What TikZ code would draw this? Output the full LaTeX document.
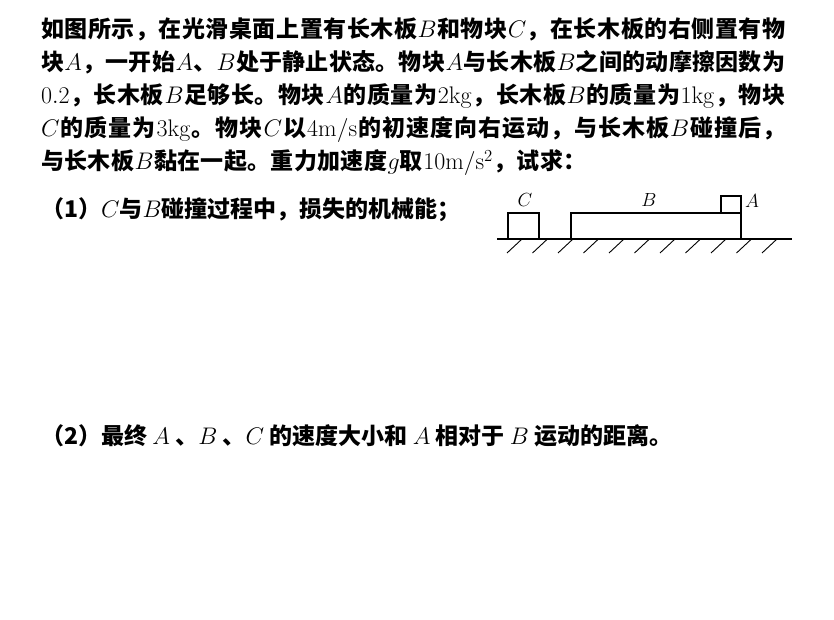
\RequirePackage{fix-cm}
\documentclass[tikz,border=0pt]{standalone}
\usepackage[no-math]{fontspec}
\setmainfont{Noto Sans CJK SC}
\setlength\parindent{0pt}
\makeatletter
\def\spreadtxt#1{#1\spread@b}
\def\spread@b#1{\ifx\relax#1\else\hskip 0pt plus 1pt #1\expandafter\spread@b\fi}
\def\looseline#1{#1\loose@b}
\def\loose@b#1{\ifx\relax#1\else\hskip 0.35pt #1\expandafter\loose@b\fi}
\makeatother
\newcommand\jline[1]{\hbox to 744pt{\spreadtxt#1\relax}}
\newcommand\nline[1]{\hbox{\looseline#1\relax}}
\newcommand\M[1]{{\fontsize{24pt}{33pt}\selectfont$#1$}}
\tikzset{
  txt/.style={anchor=base west, inner sep=0pt, font=\fontsize{23pt}{33pt}\selectfont\bfseries},
  lbl/.style={inner sep=0pt, font=\fontsize{19pt}{20pt}\selectfont},
  body/.style={draw, line width=1.3pt},
  ground/.style={line width=1.3pt},
  hatch/.style={line width=0.9pt}
}
\begin{document}
\begin{tikzpicture}[x=1pt,y=-1pt]
\useasboundingbox (0,0) rectangle (834,620);
\node[txt] (l1) at (41,38) {\jline{如图所示，在光滑桌面上置有长木板{\M{B}}和物块{\M{C}}，在长木板的右侧置有物}};
\node[txt] (l2) at (41,71) {\jline{块{\M{A}}，一开始{\M{A}}、{\M{B}}处于静止状态。物块{\M{A}}与长木板{\M{B}}之间的动摩擦因数为}};
\node[txt] (l3) at (41,104) {\jline{{\M{0.2}}，长木板{\M{B}}足够长。物块{\M{A}}的质量为{\M{2\mathrm{kg}}}，长木板{\M{B}}的质量为{\M{1\mathrm{kg}}}，物块}};
\node[txt] (l4) at (41,137) {\jline{{\M{C}}的质量为{\M{3\mathrm{kg}}}。物块{\M{C}}以{\M{4\mathrm{m/s}}}的初速度向右运动，与长木板{\M{B}}碰撞后，}};
\node[txt] (l5) at (41,170) {\nline{与长木板{\M{B}}黏在一起。重力加速度{\M{g}}取{\M{10\mathrm{m/s^2}}}，试求：}};
\node[txt] (q1) at (41,218) {（1）\M{C}与\M{B}碰撞过程中，损失的机械能；};
\node[txt] (q2) at (41,444) {（2）最终 \M{A} 、\M{B} 、\M{C} 的速度大小和 \M{A} 相对于 \M{B} 运动的距离。};
% figure
\draw[ground] (497,239) -- (792,239);
\foreach \x in {522,547.5,573,598.5,624,649.5,675,700.5,726,751.5,777}
  \draw[hatch] (\x,239) -- ({\x-15},253);
\draw[body] (508,213) rectangle (539,239);
\draw[body] (571,213) rectangle (741,239);
\draw[body] (721,196) rectangle (741,213);
\node[lbl] (lc) at (525,200) {$C$};
\node[lbl] (lb) at (649,200) {$B$};
\node[lbl] (la) at (752,201) {$A$};
\end{tikzpicture}
\end{document}
